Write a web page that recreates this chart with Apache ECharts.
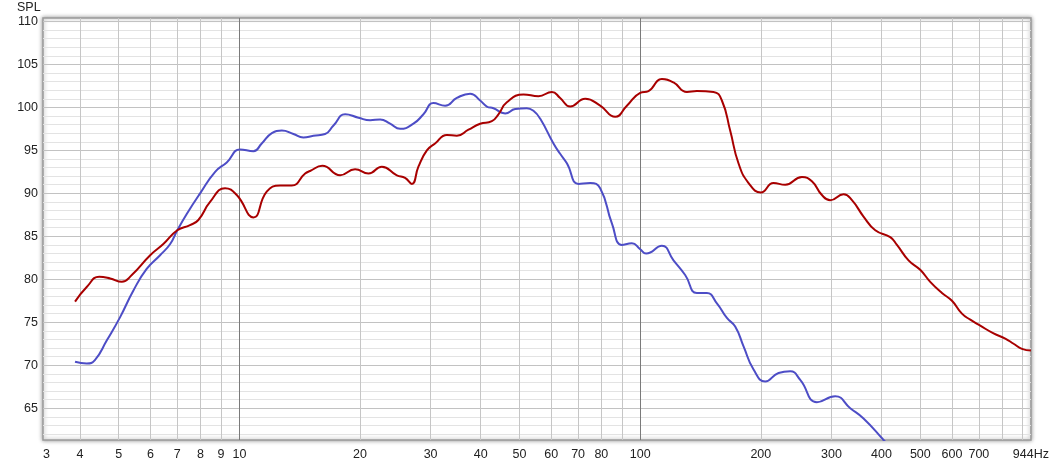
<!DOCTYPE html>
<html>
<head>
<meta charset="utf-8">
<script src="https://cdn.jsdelivr.net/npm/echarts@6/dist/echarts.min.js"></script>
<style>
html,body{margin:0;padding:0;background:#fff;}
#chart{width:1052px;height:465px;}
</style>
</head>
<body>
<div id="chart"></div>
<script>
// ---- data (frequency in Hz, level in dB SPL) ----
var redFreq = [3.89, 4.16, 4.47, 4.76, 5.09, 5.39, 5.99, 6.46, 7.00, 7.53, 7.90, 8.45, 9.21, 9.85, 10.84, 11.70, 12.64, 13.51, 14.59, 15.01, 16.10, 17.84, 19.44, 20.99, 22.67, 24.71, 25.91, 26.93, 27.97, 29.36, 30.78, 32.93, 34.88, 37.29, 39.88, 42.65, 44.30, 46.49, 51.15, 55.74, 60.21, 63.14, 66.89, 72.91, 79.47, 86.62, 92.65, 100, 104.9, 113.3, 121.1, 130.8, 138.5, 152.4, 159.9, 167.7, 175.9, 186.4, 200.1, 215.1, 230.1, 253.3, 268.2, 284.1, 298.0, 321.7, 337.6, 360.8, 386.0, 420.7, 437.2, 467.3, 499.7, 529.3, 566.2, 599.7, 635.1, 666.3, 705.6, 761.6, 814.6, 854.3, 896.6, 944];
var redSpl  = [77.4, 79.1, 80.3, 80.1, 79.7, 80.5, 82.8, 84.1, 85.7, 86.3, 86.9, 89.0, 90.6, 89.8, 87.2, 90.2, 90.9, 90.9, 92.3, 92.6, 93.2, 92.1, 92.8, 92.3, 93.1, 92.1, 91.8, 91.1, 93.1, 95.0, 95.8, 96.8, 96.7, 97.4, 98.1, 98.4, 99.2, 100.6, 101.5, 101.3, 101.8, 101.1, 100.1, 101.0, 100.2, 98.9, 100.2, 101.7, 101.9, 103.3, 102.9, 101.8, 101.9, 101.8, 100.8, 97.3, 93.5, 91.2, 90.1, 91.2, 91.0, 91.9, 91.4, 89.8, 89.2, 89.9, 89.2, 87.3, 85.7, 84.9, 84.0, 82.2, 81.1, 79.7, 78.4, 77.5, 76.0, 75.3, 74.6, 73.7, 73.1, 72.5, 71.9, 71.7];

var blueFreq = [3.89, 4.16, 4.36, 4.67, 5.04, 5.44, 5.87, 6.34, 6.72, 7.00, 7.39, 7.98, 8.70, 9.30, 10.04, 10.84, 11.37, 12.05, 12.76, 13.64, 14.44, 15.30, 16.36, 17.17, 18.36, 19.82, 21.20, 22.45, 23.77, 25.18, 27.18, 28.79, 30.49, 32.61, 34.88, 37.65, 39.88, 41.44, 43.05, 46.04, 48.77, 52.15, 54.16, 56.28, 60.77, 63.14, 65.63, 70.15, 75.04, 79.47, 85.00, 90.03, 95.35, 100, 103.5, 113.3, 121.1, 129.5, 138.5, 146.7, 155.4, 164.6, 172.6, 181.1, 191.8, 205.1, 221.4, 236.8, 250.8, 276.1, 306.7, 334.3, 360.8, 404.8, 420.7];
var blueSpl  = [70.4, 70.2, 70.6, 72.9, 75.6, 78.7, 81.2, 82.8, 84.1, 85.7, 87.6, 90.0, 92.5, 93.6, 95.1, 94.9, 95.8, 97.0, 97.3, 96.9, 96.5, 96.7, 96.9, 97.9, 99.2, 98.8, 98.5, 98.6, 98.1, 97.5, 98.1, 99.2, 100.5, 100.2, 101.1, 101.6, 100.8, 100.1, 99.9, 99.3, 99.8, 99.9, 99.6, 98.7, 95.8, 94.6, 93.5, 91.1, 91.2, 90.6, 86.5, 84.0, 84.2, 83.5, 83.0, 83.9, 82.2, 80.5, 78.4, 78.4, 77.2, 75.5, 74.5, 72.2, 69.5, 68.1, 69.1, 69.3, 68.3, 65.7, 66.4, 65.0, 63.8, 61.3, 60.4];

// axis ranges and ticks
var xMinHz = 3.236, xMaxHz = 944;
var yMin = 61.3, yMax = 110.4;
var xLabelFreqs = [3.236, 4, 5, 6, 7, 8, 9, 10, 20, 30, 40, 50, 60, 70, 80, 100, 200, 300, 400, 500, 600, 700, 944];
var xLabelTexts = ['3', '4', '5', '6', '7', '8', '9', '10', '20', '30', '40', '50', '60', '70', '80', '100', '200', '300', '400', '500', '600', '700', '944Hz'];
var xGridLight = [4, 5, 6, 7, 8, 9, 20, 30, 40, 50, 60, 70, 80, 90, 200, 300, 400, 500, 600, 700, 800, 900];
var xGridDark = [10, 100];
var yMajor = [65, 70, 75, 80, 85, 90, 95, 100, 105, 110];
var yMinor = [62, 63, 64, 66, 67, 68, 69, 71, 72, 73, 74, 76, 77, 78, 79, 81, 82, 83, 84, 86, 87, 88, 89, 91, 92, 93, 94, 96, 97, 98, 99, 101, 102, 103, 104, 106, 107, 108, 109];

function lg(v) { return Math.log10(v); }
function pairs(f, s) { return f.map(function (v, i) { return [lg(v), s[i]]; }); }

var FONT = '"Liberation Sans", Arial, sans-serif';
var chart = echarts.init(document.getElementById('chart'), null, {renderer: 'canvas'});
chart.setOption({
  animation: false,
  backgroundColor: '#ffffff',
  grid: {
    left: 43, top: 18, right: 21, bottom: 25,
    show: true, backgroundColor: '#ffffff',
    borderColor: '#9a9a9a', borderWidth: 1.5,
    shadowBlur: 4, shadowColor: 'rgba(0,0,0,0.4)'
  },
  graphic: [{
    type: 'text', left: 17, top: 1,
    style: {text: 'SPL', font: '12.5px ' + FONT, fill: '#222'}
  }],
  xAxis: [{
    type: 'value', min: lg(xMinHz), max: lg(xMaxHz),
    axisLine: {show: false},
    axisTick: {show: false, customValues: xGridLight.map(lg)},
    splitLine: {show: true, lineStyle: {color: '#c6c6c6', width: 1}},
    axisLabel: {
      customValues: xLabelFreqs.map(lg), margin: 8,
      fontFamily: FONT, fontSize: 12.5, color: '#222',
      alignMinLabel: 'left',
      formatter: function (v) {
        for (var i = 0; i < xLabelFreqs.length; i++) {
          if (Math.abs(lg(xLabelFreqs[i]) - v) < 1e-6) return xLabelTexts[i];
        }
        return '';
      }
    }
  }, {
    type: 'value', min: lg(xMinHz), max: lg(xMaxHz),
    axisLine: {show: false},
    axisTick: {show: false, customValues: xGridDark.map(lg)},
    axisLabel: {show: false},
    splitLine: {show: true, lineStyle: {color: '#7a7a7a', width: 1}}
  }],
  yAxis: [{
    type: 'value', min: yMin, max: yMax,
    axisLine: {show: false},
    axisTick: {show: false, customValues: yMajor},
    splitLine: {show: true, lineStyle: {color: '#c2c2c2', width: 1}},
    axisLabel: {customValues: yMajor, margin: 5, fontFamily: FONT, fontSize: 12.5, color: '#222'}
  }, {
    type: 'value', min: yMin, max: yMax, position: 'left',
    axisLine: {show: false},
    axisTick: {show: false, customValues: yMinor},
    axisLabel: {show: false},
    splitLine: {show: true, lineStyle: {color: '#e3e3e3', width: 1}}
  }],
  series: [{
    type: 'line', name: 'blue', xAxisIndex: 0, yAxisIndex: 0,
    data: pairs(blueFreq, blueSpl),
    showSymbol: false, smooth: 0.5, clip: true,
    lineStyle: {color: '#4d4dc6', width: 2}
  }, {
    type: 'line', name: 'red', xAxisIndex: 0, yAxisIndex: 0,
    data: pairs(redFreq, redSpl),
    showSymbol: false, smooth: 0.5, clip: true,
    lineStyle: {color: '#a80000', width: 2}
  }]
});
</script>
</body>
</html>
